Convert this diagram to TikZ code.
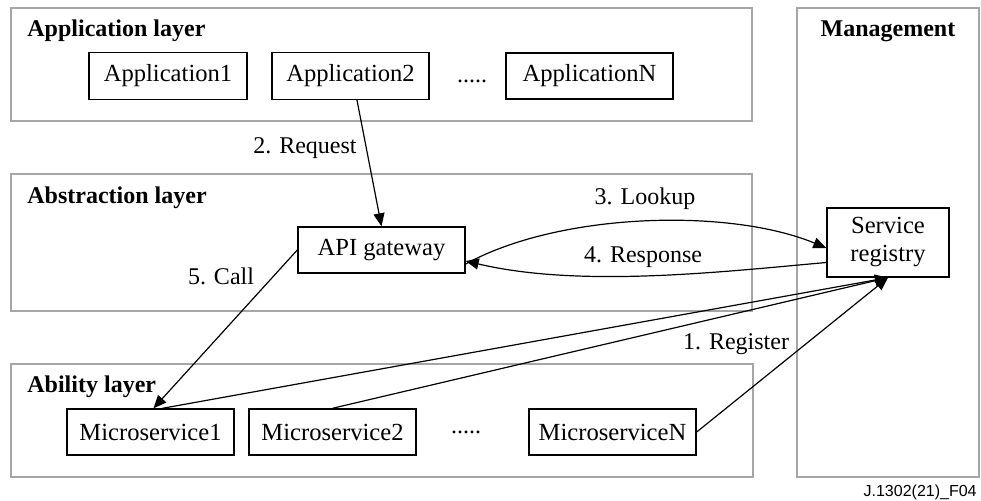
\documentclass[tikz,border=0pt]{standalone}
\usepackage{fontspec}
\setmainfont{Liberation Serif}
\newfontfamily\footfont{Liberation Sans}
\usetikzlibrary{arrows.meta,calc}
\tikzset{
  layer/.style={draw=black!35, line width=0.75pt},
  box/.style={draw=black, line width=0.7pt, inner sep=0pt, align=center,
    font=\fontsize{12.3}{13.5}\selectfont},
  lbl/.style={font=\fontsize{12}{13.5}\selectfont, inner sep=0pt},
  title/.style={font=\fontsize{12}{13.5}\selectfont\bfseries, inner sep=0pt, anchor=base west},
  conn/.style={line width=0.6pt, -{Triangle[length=6.5pt,width=5.5pt]}},
  plain/.style={line width=0.6pt}
}
\begin{document}
\begin{tikzpicture}[x=0.5pt,y=-0.5pt]
\useasboundingbox (0,0) rectangle (981,501);
% layers
\draw[layer] (11,8) rectangle (752,121);
\draw[layer] (11,174) rectangle (752,311);
\draw[layer] (11,364) rectangle (753,477);
\draw[layer] (797,8) rectangle (979,477);
\node[title] (tapp) at (27,37) {Application layer};
\node[title] (tabs) at (27,204) {Abstraction layer};
\node[title] (tabl) at (27,393) {Ability layer};
\node[title, anchor=base] (tmgmt) at (888,37) {Management};
% application nodes
\node[box, minimum width=79pt, minimum height=23.5pt] (app1) at (168,76) {Application1};
\node[box, minimum width=78.5pt, minimum height=23.5pt] (app2) at (350.5,76) {Application2};
\node[lbl, anchor=base] (appdots) at (472,83) {.....};
\node[box, minimum width=83.5pt, minimum height=23pt] (appN) at (589.5,76) {ApplicationN};
% abstraction
\node[box, minimum width=83.5pt, minimum height=23pt] (api) at (381.5,250) {API gateway};
% management
\node[box, minimum width=61pt, minimum height=34.5pt, font=\fontsize{12.3}{14}\selectfont] (reg) at (888,242.5) {Service\\registry};
% ability
\node[box, minimum width=83.5pt, minimum height=23pt] (ms1) at (150.5,432) {Microservice1};
\node[box, minimum width=83.5pt, minimum height=23pt] (ms2) at (332.5,432) {Microservice2};
\node[lbl, anchor=base] (msdots) at (466,434) {.....};
\node[box, minimum width=83.5pt, minimum height=23pt] (msN) at (612.5,432) {MicroserviceN};
% connectors
\draw[conn] ([xshift=3.25pt]app2.south) -- (api.north);
\node[lbl] (lreq) at (305,148) {2. Request};
\coordinate (apiR1) at ($(api.east)+(0,-7pt)$);
\coordinate (regL1) at ($(reg.west)+(0,-2.75pt)$);
\draw[conn] (apiR1) .. controls (560,212) and (730,208) .. (regL1);
\node[lbl] (llook) at (645,199) {3. Lookup};
\coordinate (regL2) at ($(reg.west)+(0,-10pt)$);
\coordinate (apiR2) at ($(api.east)+(0,-5.5pt)$);
\draw[conn] (regL2) .. controls (720,272) and (580,288) .. (apiR2);
\node[lbl] (lresp) at (643,257) {4. Response};
\draw[conn] (api.west) -- ([xshift=1.5pt]ms1.north);
\node[lbl] (lcall) at (221,276) {5. Call};
\draw[conn] ([xshift=6pt]ms1.north) -- (reg.south);
\draw[conn] (ms2.north) -- (reg.south);
\draw[conn] (msN.east) -- (reg.south);
\node[lbl] (lreg) at (736,344) {1. Register};
% footer
\node[inner sep=0pt, anchor=base east, font=\footfont\fontsize{8}{9}\selectfont] (foot) at (977,497) {J.1302(21)\_F04};
\end{tikzpicture}
\end{document}
